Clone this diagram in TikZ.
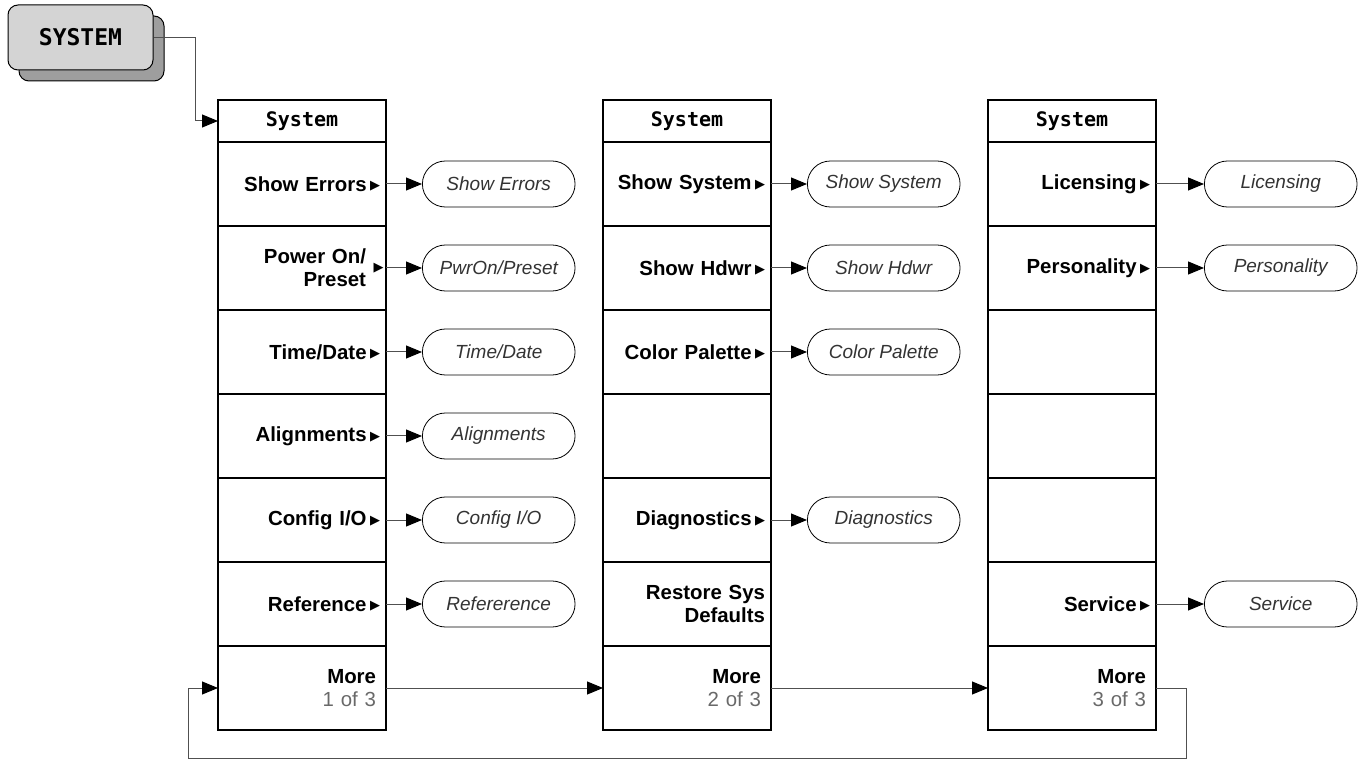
\documentclass[tikz,border=0pt]{standalone}
\usepackage{fontspec}
\setmainfont{Liberation Sans}
\newfontfamily\keyfont{DejaVu Sans Mono}
\newfontfamily\symfont{DejaVu Sans}
\usetikzlibrary{
    positioning,                      % right=of, below=of
    arrows.meta,                      % Triangle tips
    shapes.misc,                      % rounded rectangle
    calc                              % loop corners
}
\definecolor{key_face}{RGB}{212,212,212}
\definecolor{key_shadow}{RGB}{158,158,158}
\definecolor{line_gray}{RGB}{80,80,80}
\definecolor{note_gray}{RGB}{105,105,105}
\newcommand{\tri}{\,{\symfont\fontsize{6.5}{7}\selectfont\raisebox{0.6pt}{▶}}}
\newcommand{\pad}[1]{\rule{#1}{0pt}}
\tikzset{
    hardkey/.style={
        rectangle, draw, rounded corners=5pt, line width=0.5pt,
        minimum width=72.5pt, minimum height=32.5pt,
        fill=key_face, font=\keyfont\bfseries\fontsize{11.5}{13}\selectfont
    },
    menuhead/.style={
        rectangle, draw, line width=0.6pt, outer sep=0pt,
        minimum width=84pt, minimum height=21pt, inner sep=0pt,
        font=\keyfont\bfseries\fontsize{10}{12}\selectfont
    },
    softkey/.style={
        rectangle, draw, line width=0.6pt, outer sep=0pt,
        minimum width=84pt, minimum height=42pt,
        text width=78pt, inner xsep=3pt, align=right,
        font=\bfseries\fontsize{10.2}{11.5}\selectfont
    },
    form/.style={
        rounded rectangle, draw, line width=0.4pt,
        minimum width=83pt, minimum height=23pt,
        font=\itshape\fontsize{9.5}{11}\selectfont, text=black!80
    },
    arrow/.style={
        -{Triangle[length=8pt,width=6.5pt,color=black]}, line width=0.5pt, draw=line_gray
    }
}

\begin{document}
\begin{tikzpicture}[node distance=0pt and 108.5pt]
    \useasboundingbox (0,0) rectangle (682.5pt,-382pt);

    % --- Front panel key ---
    \node[hardkey, fill=key_shadow] (keyshade) at (45.75pt,-24.25pt) {\phantom{SYSTEM}};
    \node[hardkey] (key) at (40.25pt,-18.75pt) {SYSTEM};

    % --- Menu headers ---
    \node[menuhead] (sys1) at (151pt,-60.5pt) {System};
    \node[menuhead, right=of sys1] (sys2) {System};
    \node[menuhead, right=of sys2] (sys3) {System};

    % --- Page 1 ---
    \node[softkey, below=of sys1]     (errors)   {Show Errors\tri};
    \node[softkey, below=of errors]   (pwron)    {Power On/\pad{7pt}\\Preset\pad{7pt}};
    \node[softkey, below=of pwron]    (timedate) {Time/Date\tri};
    \node[softkey, below=of timedate] (align)    {Alignments\tri};
    \node[softkey, below=of align]    (config)   {Config I/O\tri};
    \node[softkey, below=of config]   (refer)    {Reference\tri};
    \node[softkey, below=of refer]    (more1)    {More\pad{2pt}\\\mdseries\textcolor{note_gray}{1 of 3}\pad{2pt}};
    \node[anchor=east, inner sep=1pt] (pwrtri) at (pwron.east) {\tri};

    % --- Page 2 ---
    \node[softkey, below=of sys2]     (showsys)  {Show System\tri};
    \node[softkey, below=of showsys]  (hdwr)     {Show Hdwr\tri};
    \node[softkey, below=of hdwr]     (palette)  {Color Palette\tri};
    \node[softkey, below=of palette]  (blank2)   {};
    \node[softkey, below=of blank2]   (diag)     {Diagnostics\tri};
    \node[softkey, below=of diag]     (restore)  {Restore Sys\\Defaults};
    \node[softkey, below=of restore]  (more2)    {More\pad{2pt}\\\mdseries\textcolor{note_gray}{2 of 3}\pad{2pt}};

    % --- Page 3 ---
    \node[softkey, below=of sys3]     (licens)   {Licensing\tri};
    \node[softkey, below=of licens]   (person)   {Personality\tri};
    \node[softkey, below=of person]   (blank3a)  {};
    \node[softkey, below=of blank3a]  (blank3b)  {};
    \node[softkey, below=of blank3b]  (blank3c)  {};
    \node[softkey, below=of blank3c]  (service)  {Service\tri};
    \node[softkey, below=of service]  (more3)    {More\pad{2pt}\\\mdseries\textcolor{note_gray}{3 of 3}\pad{2pt}};

    % --- Submenus ---
    \node[form, right=18pt of errors]   (f_errors)   {Show Errors};
    \node[form, right=18pt of pwron]    (f_pwron)    {PwrOn/Preset};
    \node[form, right=18pt of timedate] (f_timedate) {Time/Date};
    \node[form, right=18pt of align]    (f_align)    {Alignments};
    \node[form, right=18pt of config]   (f_config)   {Config I/O};
    \node[form, right=18pt of refer]    (f_refer)    {Refererence};
    \node[form, right=18pt of showsys]  (f_showsys)  {Show System};
    \node[form, right=18pt of hdwr]     (f_hdwr)     {Show Hdwr};
    \node[form, right=18pt of palette]  (f_palette)  {Color Palette};
    \node[form, right=18pt of diag]     (f_diag)     {Diagnostics};
    \node[form, right=24pt of licens]   (f_licens)   {Licensing};
    \node[form, right=24pt of person]   (f_person)   {Personality};
    \node[form, right=24pt of service]  (f_service)  {Service};

    \foreach \src in {errors, pwron, timedate, align, config, refer,
                      showsys, hdwr, palette, diag, licens, person, service} {
        \draw[arrow] (\src.east) -- (f_\src.west);
    }

    % --- Key into page 1 ---
    \draw[arrow] (key.east) -- ++(21pt,0) |- (sys1.west);

    % --- More chain ---
    \draw[arrow] (more1.east) -- (more2.west);
    \draw[arrow] (more2.east) -- (more3.west);
    \coordinate (loop_se) at ($(more3.east)+(15pt,-35pt)$);
    \coordinate (loop_sw) at ($(more1.west)+(-15pt,-35pt)$);
    \draw[arrow] (more3.east) -| (loop_se) -- (loop_sw) |- (more1.west);

\end{tikzpicture}
\end{document}
